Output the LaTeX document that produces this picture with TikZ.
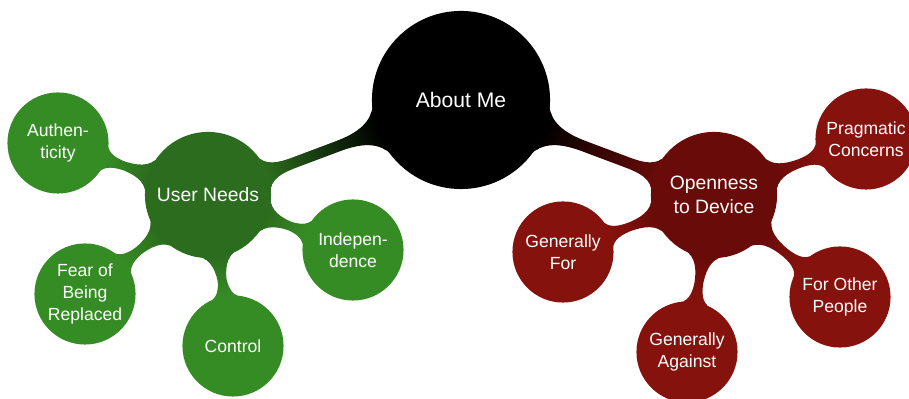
\documentclass[tikz,border=0pt]{standalone}
\usepackage{fontspec}
\setmainfont{Liberation Sans}
\usetikzlibrary{mindmap}
\definecolor{needgreen}{RGB}{44,108,30}
\definecolor{leafgreen}{RGB}{54,140,36}
\definecolor{openred}{RGB}{104,11,9}
\definecolor{leafred}{RGB}{134,18,13}

\begin{document}
\begin{tikzpicture}[mindmap, text=white,
  rootc/.style={concept, concept color=black, minimum size=3.52cm, text width=, align=center, inner sep=0pt, font=\fontsize{12}{14}\selectfont},
  midc/.style={concept, minimum size=2.48cm, text width=, align=center, inner sep=0pt, font=\fontsize{11}{13.5}\selectfont},
  leafc/.style={concept, minimum size=1.98cm, text width=, align=center, inner sep=0pt, font=\fontsize{10}{12.5}\selectfont}]
\useasboundingbox (0,0) rectangle (18.18,7.98);
% 1. root
\node[rootc] (about) at (9.22,5.98) {About Me};

% 2. user needs
\node[midc, concept color=needgreen] (needs) at (4.16,4.08) {User Needs};
\node[leafc, concept color=leafgreen] (authen) at (1.16,5.12) {Authen-\\ticity};
\node[leafc, concept color=leafgreen] (fear) at (1.70,2.10) {Fear of\\Being\\Replaced};
\node[leafc, concept color=leafgreen] (control) at (4.66,1.06) {Control};
\node[leafc, concept color=leafgreen] (indep) at (7.06,2.98) {Indepen-\\dence};

% 3. openness to device
\node[midc, concept color=openred] (open) at (14.28,4.08) {Openness\\to Device};
\node[leafc, concept color=leafred] (genfor) at (11.26,2.94) {Generally\\For};
\node[leafc, concept color=leafred] (genagainst) at (13.74,0.94) {Generally\\Against};
\node[leafc, concept color=leafred] (forother) at (16.80,2.04) {For Other\\People};
\node[leafc, concept color=leafred] (prag) at (17.32,5.20) {Pragmatic\\Concerns};

\path (about) to[circle connection bar switch color=from (black) to (needgreen)] (needs);
\path (about) to[circle connection bar switch color=from (black) to (openred)] (open);
\foreach \leaf in {authen,fear,control,indep}
  \path (needs) to[circle connection bar switch color=from (needgreen) to (leafgreen)] (\leaf);
\foreach \leaf in {genfor,genagainst,forother,prag}
  \path (open) to[circle connection bar switch color=from (openred) to (leafred)] (\leaf);
\end{tikzpicture}
\end{document}
